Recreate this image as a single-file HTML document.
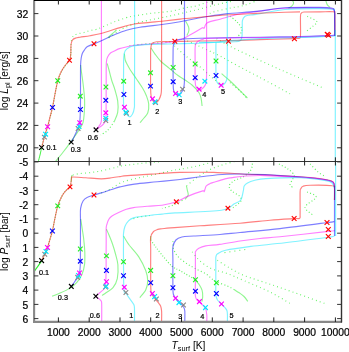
<!DOCTYPE html>
<html><head><meta charset="utf-8"><style>
html,body{margin:0;padding:0;background:#fff;}
svg{display:block;}
text{font-family:"Liberation Sans",Arial,Helvetica,sans-serif;fill:#000;}
.b text{stroke:#000;stroke-width:0.22px;}
</style></head><body>
<svg width="349" height="352" viewBox="0 0 349 352">
<rect width="349" height="352" fill="#fff"/>
<g fill="none" stroke-linecap="butt">
<path d="M38.3 161.5 C38.6 160.4 39.4 157.4 40 155 C40.6 152.6 41.4 148.6 41.7 147.3" stroke="#22ee22" stroke-width="1.0" stroke-opacity="0.85"/>
<path d="M41.7 147.3 C42.2 145.6 43.4 140.5 44.4 137.1 C45.4 133.7 46.2 131.7 47.6 126.7 C49 121.8 50.8 115.1 52.5 107.4 C54.2 99.7 56 87.1 57.8 80.7 C59.5 74.3 61 72.4 63 69 C65 65.6 68.2 62.6 69.5 60.1 C70.8 57.6 70.5 56.7 70.8 54 C71 51.3 71 45.7 71 44" stroke="#22ee22" stroke-width="1.15" stroke-dasharray="1 1.5" stroke-opacity="0.7"/>
<path d="M71.3 41 C71.5 40.4 72 38.5 72.5 37.5 C73 36.5 73.3 35.9 74.3 35.2 C75.3 34.6 77 34 78.6 33.6 C80.1 33.2 81.8 33.1 83.6 32.6 C85.4 32.1 87.2 31.2 89.4 30.7 C91.6 30.1 94 30.1 96.5 29.3 C99 28.6 101.5 27.4 104.4 26.2 C107.3 25 110.1 23.4 113.8 22 C117.5 20.6 123.4 18.6 126.4 17.6 C129.4 16.7 129.7 16.7 132 16.3 C134.3 15.9 137 15.5 140.1 15 C143.2 14.5 145.2 14 150.3 13.4 C155.4 12.8 165 12.1 170.9 11.2 C176.8 10.2 181.6 8.5 185.6 7.7 C189.6 6.9 191.8 7 195 6.3 C198.2 5.5 201.6 4.1 204.5 3.2 C207.4 2.3 211 1.2 212.3 0.8" stroke="#22ee22" stroke-width="1.15" stroke-dasharray="0.9 3.2" stroke-opacity="0.7"/>
<path d="M109.2 37.8 C111.1 36.5 116.3 32.2 120.6 29.8 C124.9 27.4 130.6 25 135 23.5 C139.4 22 141.3 21.8 146.9 20.6 C152.5 19.4 162 17.7 168.4 16.3 C174.8 14.9 180.9 13.5 185.6 12.4 C190.3 11.3 191.5 11.1 196.7 9.8 C201.9 8.5 210.7 6 216.7 4.6 C222.7 3.1 230.1 1.7 232.8 1.1" stroke="#22ee22" stroke-width="1.15" stroke-dasharray="0.9 3.2" stroke-opacity="0.7"/>
<path d="M209.8 13.4 C211 13 213.5 11.9 217.1 11 C220.7 10.1 227.3 8.7 231.2 7.9 C235.1 7.1 237.8 7 240.7 6.3 C243.6 5.6 246 4.8 248.6 3.9 C251.2 3 254.8 1.5 256 1" stroke="#22ee22" stroke-width="1.15" stroke-dasharray="0.9 3.2" stroke-opacity="0.7"/>
<path d="M55.5 161.5 C56.8 159.9 60.6 155.3 63.2 152 C65.8 148.7 68.4 145.2 71 141.6 C73.6 138 76.7 133.7 78.7 130.5 C80.7 127.3 82.1 125.8 83 122.7 C83.9 119.6 84 115.8 84.3 112 C84.6 108.2 84.8 104.5 84.6 100 C84.4 95.5 83.8 89.7 83.2 84.7 C82.6 79.7 81.6 73.3 81.2 70 C80.8 66.7 80.7 65.8 80.6 65" stroke="#22ee22" stroke-width="1.1" stroke-opacity="0.5"/>
<path d="M107.2 63.5 C107.5 64.6 108.3 67.2 109 70 C109.7 72.8 110.6 76.7 111.6 80 C112.6 83.3 114 86.5 115 90 C116 93.5 117.2 97.2 117.7 100.9 C118.2 104.6 118.3 108.9 117.7 112.3 C117.1 115.7 114.9 119.9 114.3 121.4" stroke="#22ee22" stroke-width="1.1" stroke-opacity="0.5"/>
<path d="M114.3 121.4 C113.2 122.9 109.8 128.2 107.5 130.5 C105.2 132.8 101.8 134.2 100.7 135" stroke="#22ee22" stroke-width="1.15" stroke-dasharray="1 2.2" stroke-opacity="0.7"/>
<path d="M107.9 37.9 C108.6 37.2 110.6 35.3 112 34 C113.4 32.7 115.8 30.7 116.5 30" stroke="#22ee22" stroke-width="1.1" stroke-opacity="0.5"/>
<path d="M124.4 53.6 C124.5 54.7 124.7 58.1 125.2 60 C125.7 61.9 126.7 63.4 127.5 65 C128.3 66.6 128.5 67.2 130 69.5 C131.5 71.8 134.4 75.9 136.5 79 C138.6 82.1 140.8 85.2 142.5 88 C144.2 90.8 145.5 93.3 146.5 96 C147.5 98.7 148.5 101.2 148.7 104 C148.9 106.8 148.6 110.4 147.8 112.7 C147 115 145.3 116.3 144 118 C142.7 119.7 140.7 121.8 140 122.6" stroke="#22ee22" stroke-width="1.1" stroke-opacity="0.5"/>
<path d="M129.5 45.7 C132.9 45.3 142.4 44.2 150 43.5 C157.6 42.8 170.8 41.8 175 41.5" stroke="#22ee22" stroke-width="1.15" stroke-dasharray="1 3" stroke-opacity="0.7"/>
<path d="M151 47.9 C151.7 49 153.5 52 155.2 54.3 C156.9 56.6 158.9 59.4 161 61.5 C163.1 63.6 165.2 64.9 168 67.2 C170.8 69.5 175.2 73.4 178 75.5 C180.8 77.6 182.7 78.4 185 80 C187.3 81.6 189.7 83 192 85 C194.3 87 197.2 90.1 198.7 92.3 C200.2 94.5 200.4 95.7 201 98 C201.6 100.3 201.9 104.7 202.1 106" stroke="#22ee22" stroke-width="1.1" stroke-opacity="0.5"/>
<path d="M185.6 21 C186.1 22 188.1 25.3 188.6 27 C189.1 28.7 189.1 29.6 188.8 31 C188.5 32.4 187.2 34.8 186.9 35.5" stroke="#22ee22" stroke-width="1.1" stroke-opacity="0.5"/>
<path d="M230.4 16.3 C231.6 17.3 235.4 20.3 237.3 22.3 C239.2 24.3 241 26.7 241.6 28.4 C242.2 30.1 241.7 31.3 241 32.7 C240.3 34.1 237.9 36.3 237.3 37" stroke="#22ee22" stroke-width="1.15" stroke-dasharray="1 2" stroke-opacity="0.7"/>
<path d="M174.5 45.9 C176.4 47.6 181.7 52.7 185.9 56.1 C190.1 59.5 195.3 63 199.5 66.4 C203.7 69.8 207.5 73.7 210.9 76.6 C214.3 79.5 218.5 82.8 220 84" stroke="#22ee22" stroke-width="1.15" stroke-dasharray="0.9 3.2" stroke-opacity="0.7"/>
<path d="M183.6 39.1 C187 40.7 198 45.7 204.1 48.5 C210.2 51.3 214.3 53.1 220 56 C225.7 58.9 231.7 62.6 238 66 C244.3 69.4 249.3 71.9 258 76.5 C266.7 81.1 284.7 90.9 290 93.8" stroke="#22ee22" stroke-width="1.15" stroke-dasharray="0.9 3.2" stroke-opacity="0.7"/>
<path d="M216.6 38.7 C220.1 40.6 226.7 44.8 237.3 49.9 C247.9 55 265.6 63.1 280 69.5 C294.4 75.9 316.5 85.1 323.8 88.2" stroke="#22ee22" stroke-width="1.15" stroke-dasharray="0.9 3.2" stroke-opacity="0.7"/>
<path d="M221.6 73.7 C222.8 74.8 226.6 77.8 229 80 C231.4 82.2 232.8 83.6 235.9 86.6 C239 89.6 245.5 96.1 247.4 98" stroke="#22ee22" stroke-width="1.1" stroke-opacity="0.5"/>
<path d="M230 82.6 C231.7 84 237 88.2 240 91 C243 93.8 246.7 98 248 99.4" stroke="#22ee22" stroke-width="1.15" stroke-dasharray="1 2.5" stroke-opacity="0.7"/>
<path d="M307.3 16.3 C308.9 17.2 315.8 19.9 316.8 21.5 C317.8 23.1 315.3 24.1 313.4 25.8 C311.5 27.5 306.9 30.8 305.6 31.8" stroke="#22ee22" stroke-width="1.15" stroke-dasharray="1 2.4" stroke-opacity="0.7"/>
<path d="M292.3 0 C292.5 0.5 293.7 2 293.6 3 C293.5 4 292.4 5.5 291.5 6.3 C290.6 7.1 289 7.7 288.5 8" stroke="#22ee22" stroke-width="1.1" stroke-opacity="0.5"/>
<path d="M325.6 0 C325.9 0.8 326.5 3.4 327.2 4.6 C327.9 5.8 329.5 6.9 330 7.4" stroke="#22ee22" stroke-width="1.1" stroke-opacity="0.5"/>
<path d="M101.4 0 C101.4 10 101.4 41.7 101.4 60 C101.4 78.3 101.4 99.8 101.4 110 C101.4 120.2 101.7 118.7 101.3 121.4 C100.9 124.1 99.9 124.6 99 126 C98.1 127.4 96.6 129 96.1 129.6" stroke="#ff00ff" stroke-width="1.15" stroke-opacity="0.5"/>
<path d="M96.1 129.6 C96.7 129.2 98.4 128.1 99.5 127.3 C100.6 126.5 101.6 125.9 102.5 125 C103.4 124.1 104.3 123.2 104.9 122 C105.5 120.8 105.7 120 105.9 118 C106.1 116 106 116.3 106.1 110 C106.1 103.7 106.2 88 106.2 80 C106.2 72 106.1 65.9 106.4 62 C106.7 58.1 107.2 58 107.9 56.5 C108.6 55 109.6 53.8 110.5 53 C111.4 52.2 111.8 52.2 113.3 51.5 C114.8 50.8 117 49.4 119.4 48.6 C121.9 47.8 125.4 47.1 128 46.5 C130.6 45.9 132.3 45.6 135.1 45.2 C137.9 44.8 140.8 44.6 145 44.3 C149.2 44 155.7 43.7 160 43.3 C164.3 42.9 168.3 42.4 171 42 C173.7 41.6 174.5 41.1 176 40.7 C177.5 40.3 178.7 40.2 180 39.8 C181.3 39.4 181.8 39.4 184 38.3 C186.2 37.2 190.4 34.8 193.5 33 C196.6 31.2 201.2 28.5 202.8 27.6" stroke="#ff00ff" stroke-width="1.15" stroke-opacity="0.5"/>
<path d="M202.8 27.6 C203 27.7 203.8 28.6 204.2 28.2 C204.6 27.8 204.8 26.3 205.2 25.5 C205.6 24.7 205.7 24 206.5 23.4 C207.3 22.8 207.7 22.3 210 21.6 C212.3 20.9 216.7 20.1 220.1 19.2 C223.5 18.3 227 17.2 230.4 16.3 C233.8 15.4 236.4 14.6 240.7 13.8 C245 13 248.6 12.6 256 11.7 C263.4 10.8 274.4 8.9 285 8.3 C295.6 7.7 311.7 8 319.4 8 C327.1 8.1 328.9 8 331.4 8.6 C333.9 9.2 333.9 9.6 334.5 11.5 C335.1 13.4 334.6 15.9 334.7 20 C334.8 24.1 334.8 33.3 334.8 36" stroke="#ff00ff" stroke-width="1.15" stroke-opacity="0.5"/>
<path d="M134.6 0 C134.6 10 134.6 43.3 134.6 60 C134.6 76.7 134.6 92 134.5 100 C134.4 108 134.7 105.5 134.3 107.9 C134 110.3 133.2 112.8 132.4 114.3 C131.6 115.8 130.4 116.9 129.4 116.8 C128.4 116.7 127.1 114.6 126.2 113.5 C125.3 112.4 124.5 112.2 124 110 C123.5 107.8 123.6 106.7 123.5 100 C123.4 93.3 123.5 77.2 123.6 70 C123.6 62.8 123.5 59.7 123.8 56.5 C124.1 53.3 124.2 52.2 125.2 50.7 C126.2 49.2 128 48 129.5 47.2 C131.1 46.4 131.9 46.1 134.5 45.7 C137.1 45.3 139.4 44.9 145 44.6 C150.6 44.3 158.8 44.2 168 44 C177.2 43.8 191.9 43.5 200 43.2 C208.1 42.9 210.8 42.5 216.6 42.3 C222.4 42.1 231 42.1 235 41.8 C239 41.5 239.3 41.5 240.5 40.5 C241.7 39.5 241.8 36.8 242.1 36.1" stroke="#00e8ff" stroke-width="1.15" stroke-opacity="0.5"/>
<path d="M242.1 36.1 C242.1 34.8 242.2 30.6 242.3 28 C242.4 25.4 242 22.6 242.4 20.6 C242.8 18.7 243.8 17.2 245 16.3 C246.2 15.4 247.5 15.4 249.3 15.1 C251.1 14.8 250.1 15.3 256 14.4 C261.9 13.5 274.4 10.5 285 9.5 C295.6 8.5 311.7 8.7 319.4 8.6 C327.1 8.5 328.9 8.6 331.4 9.2 C333.9 9.8 334 7.5 334.6 12 C335.2 16.5 334.8 32 334.8 36" stroke="#00e8ff" stroke-width="1.15" stroke-opacity="0.5"/>
<path d="M161.6 0 C161.6 10 161.6 45.3 161.6 60 C161.6 74.7 161.6 82.2 161.5 88 C161.4 93.8 161.3 92.9 160.8 95 C160.3 97.1 159.3 99.2 158.5 100.5 C157.7 101.8 156.7 102.6 155.8 102.7 C154.9 102.8 153.8 102 153 101 C152.2 100 151.6 99.2 151.2 97 C150.8 94.8 150.7 94.2 150.6 88 C150.5 81.8 150.6 66.7 150.6 60 C150.6 53.3 150.5 50.8 150.8 48 C151.1 45.2 151.2 44.2 152.2 43.2 C153.2 42.2 154.1 42 156.7 41.7 C159.3 41.4 164.9 41.5 168 41.5 C171.1 41.5 169.9 41.6 175.2 41.5 C180.5 41.4 191.1 41.1 200 41 C208.9 40.9 218.8 40.8 228.8 40.6 C238.8 40.4 249.1 39.9 260 39.6 C270.9 39.3 287.6 38.8 294.2 38.6 C300.8 38.4 298.4 38.8 299.5 38.2 C300.6 37.6 300.3 38.7 300.5 35 C300.7 31.3 300.3 19.6 300.5 16 C300.7 12.4 300.9 13.9 301.5 13.2 C302.1 12.5 300.9 12.2 304 12 C307.1 11.8 315.1 11.8 320 11.8 C324.9 11.8 330.6 11.4 333.1 11.8 C335.6 12.2 334.5 10 334.8 14 C335.1 18 334.9 32.3 334.9 36" stroke="#ff0000" stroke-width="1.15" stroke-opacity="0.5"/>
<path d="M184.5 0 C184.5 10 184.5 46.3 184.5 60 C184.5 73.7 184.6 77.2 184.4 82 C184.2 86.8 184 86.7 183.4 88.5 C182.8 90.3 181.9 92 181 93 C180.1 94 179.2 94.8 178.2 94.8 C177.2 94.8 175.8 94.3 175 93.3 C174.2 92.3 173.7 92 173.4 89 C173.1 86 173.2 81.5 173.1 75 C173 68.5 173 55 173.1 50 C173.2 45 173.2 46.4 173.6 45 C174 43.6 174.4 42.5 175.5 41.5 C176.6 40.5 175.9 39.7 180 39.2 C184.1 38.7 186.7 38.6 200 38.3 C213.3 38 243.3 37.5 260 37.2 C276.7 36.9 288.7 36.9 300 36.6 C311.3 36.3 322.2 35.8 328 35.6 C333.8 35.4 333.4 35.3 334.5 35.2" stroke="#0000ff" stroke-width="1.15" stroke-opacity="0.5"/>
<path d="M206.6 0 C206.6 10 206.6 47 206.6 60 C206.6 73 206.7 73.9 206.5 78 C206.3 82.1 206.2 82.8 205.5 84.5 C204.8 86.2 203.6 87.7 202.5 88.5 C201.4 89.3 200.1 89.7 199.1 89.5 C198.1 89.3 197.2 88.8 196.5 87.5 C195.8 86.2 195.4 86.6 195.2 82 C195 77.4 195.1 65.7 195.1 60 C195.1 54.3 195 50.7 195.1 48 C195.2 45.3 195.3 45.1 195.8 44 C196.3 42.9 196.8 42 198 41.2 C199.2 40.4 201 39.7 203 39.2 C205 38.7 200.5 38.5 210 38.2 C219.5 37.9 245 37.8 260 37.6 C275 37.4 288.7 37.3 300 37 C311.3 36.7 322.2 36.1 328 35.8 C333.8 35.5 333.4 35.5 334.5 35.4" stroke="#ff00ff" stroke-width="1.15" stroke-opacity="0.5"/>
<path d="M227.3 0 C227.3 6.7 227.3 27.7 227.3 40 C227.3 52.3 227.4 67.2 227.2 74 C227 80.8 226.8 79.2 226.2 81 C225.6 82.8 224.4 83.9 223.6 84.6 C222.8 85.3 222 85.5 221.1 85.4 C220.2 85.3 219.1 85.1 218.3 84 C217.5 82.9 216.6 83 216.2 79 C215.8 75 215.9 65.5 215.9 60 C215.9 54.5 215.9 48.9 215.9 46 C215.9 43.1 216.1 43 216.1 42.4" stroke="#00e8ff" stroke-width="1.15" stroke-opacity="0.5"/>
<path d="M199 42.4 C201.9 42.4 212 42.5 216.3 42.3 C220.6 42.1 221.1 41.4 225 41 C228.9 40.6 234.2 40.4 240 40 C245.8 39.6 250 39 260 38.6 C270 38.2 288.7 37.9 300 37.5 C311.3 37.1 322.2 36.5 328 36.2 C333.8 36 333.7 36 334.8 36" stroke="#00e8ff" stroke-width="1.15" stroke-opacity="0.5"/>
<path d="M71.3 142.1 C71.8 141.1 73.4 138.2 74.5 136 C75.6 133.8 77 131 77.8 128.8 C78.6 126.6 79.2 125 79.6 122.7 C80 120.4 80 118.8 80.2 115 C80.4 111.2 80.5 105.8 80.5 100 C80.5 94.2 80.5 85.8 80.5 80 C80.5 74.2 80.5 68.7 80.6 65 C80.7 61.3 80.9 59.9 81.2 58 C81.5 56.1 81.8 54.9 82.3 53.5 C82.8 52.1 83.6 51 84.5 49.8 C85.4 48.6 85.9 47.5 87.5 46.5 C89.1 45.5 91.4 44.9 94 43.8 C96.6 42.7 99.7 41.5 103 40 C106.3 38.5 109.9 36.6 113.8 35 C117.7 33.4 122.1 31.5 126.5 30.2 C130.9 28.9 134.1 28.1 140 27.2 C145.9 26.2 155.2 25.4 161.9 24.5 C168.6 23.6 173.7 22.8 180 21.7 C186.3 20.6 192.4 19.1 200 17.8 C207.6 16.5 216.5 15 225.8 13.9 C235.1 12.8 246.1 12.4 256 11.4 C265.9 10.4 274.4 8.5 285 7.8 C295.6 7.1 311.7 7.4 319.4 7.4 C327.1 7.4 328.9 7.5 331.4 8 C333.9 8.5 333.9 8.5 334.4 10.5 C334.9 12.5 334.6 15.8 334.6 20 C334.7 24.2 334.7 33.3 334.7 36" stroke="#0000ff" stroke-width="1.15" stroke-opacity="0.5"/>
<path d="M41.6 147.5 C42.1 145.8 43.7 139.6 44.4 137.1 C45.1 134.6 45.1 134.4 45.6 132.7 C46.1 131 46.9 129.3 47.6 126.7 C48.3 124.1 49.2 120.2 50 117 C50.8 113.8 51.7 111.2 52.5 107.4 C53.3 103.6 54.1 98.5 55 94 C55.9 89.5 56.8 84.4 57.8 80.7 C58.8 77 59.8 74.5 61 72 C62.2 69.5 63.6 67.5 65 65.5 C66.4 63.5 68.5 62.2 69.5 60.3 C70.5 58.4 70.6 56 70.8 54 C71 52 70.8 49.8 70.9 48 C71 46.2 70.9 44.9 71.2 43.5 C71.5 42.1 71.9 40.7 72.6 39.8 C73.3 38.9 74.3 38.5 75.5 38.1 C76.7 37.7 77.6 37.6 80 37.2 C82.4 36.8 86.7 36.4 90 35.8 C93.3 35.2 96.7 34.6 100 33.8 C103.3 33 106.7 31.8 110 30.8 C113.3 29.8 115.9 28.7 120 27.6 C124.1 26.5 129.4 24.9 134.4 24 C139.4 23.1 145.4 22.9 150 22.4 C154.6 21.9 156.9 21.8 161.9 21.2 C166.9 20.6 173.7 19.8 180 19.1 C186.3 18.4 192.4 17.9 200 17.2 C207.6 16.5 216.5 15.6 225.8 15 C235.1 14.4 246.1 13.9 256 13.4 C265.9 12.9 277.7 12.4 285 12.2 C292.3 11.9 297.5 11.9 300 11.9" stroke="#ff0000" stroke-width="1.15" stroke-opacity="0.5"/>
<path d="M335.3 30 L335.3 162" stroke="#00e8ff" stroke-width="1.15" stroke-opacity="0.5"/>
<path d="M39.2 145.2 L44 149.8 M39.2 149.8 L44 145.2" stroke="#000000" stroke-width="1.15"/>
<path d="M42 134.8 L46.8 139.4 M42 139.4 L46.8 134.8" stroke="#888888" stroke-width="1.15"/>
<path d="M43.2 131.8 L48 136.5 M43.2 136.5 L48 131.8" stroke="#00e8ff" stroke-width="1.15"/>
<path d="M45.2 124.4 L50 129.1 M45.2 129.1 L50 124.4" stroke="#ff00ff" stroke-width="1.15"/>
<path d="M50.1 105.1 L54.9 109.8 M50.1 109.8 L54.9 105.1" stroke="#0000ff" stroke-width="1.15"/>
<path d="M55.4 78.4 L60.1 83 M55.4 83 L60.1 78.4" stroke="#22ee22" stroke-width="1.15"/>
<path d="M67.2 57.9 L71.8 62.6 M67.2 62.6 L71.8 57.9" stroke="#ff0000" stroke-width="1.15"/>
<path d="M68.9 139.8 L73.5 144.4 M68.9 144.4 L73.5 139.8" stroke="#000000" stroke-width="1.15"/>
<path d="M75.8 126.2 L80.4 130.9 M75.8 130.9 L80.4 126.2" stroke="#888888" stroke-width="1.15"/>
<path d="M76.8 124.1 L81.4 128.8 M76.8 128.8 L81.4 124.1" stroke="#00e8ff" stroke-width="1.15"/>
<path d="M77.4 120.4 L82 125 M77.4 125 L82 120.4" stroke="#ff00ff" stroke-width="1.15"/>
<path d="M78.1 107.2 L82.8 111.8 M78.1 111.8 L82.8 107.2" stroke="#0000ff" stroke-width="1.15"/>
<path d="M78 93.9 L82.6 98.5 M78 98.5 L82.6 93.9" stroke="#22ee22" stroke-width="1.15"/>
<path d="M91.7 41.4 L96.3 46.1 M91.7 46.1 L96.3 41.4" stroke="#ff0000" stroke-width="1.15"/>
<path d="M93.7 127.5 L98.3 132.2 M93.7 132.2 L98.3 127.5" stroke="#000000" stroke-width="1.15"/>
<path d="M103.5 118.2 L108.1 122.8 M103.5 122.8 L108.1 118.2" stroke="#888888" stroke-width="1.15"/>
<path d="M103.5 116 L108.1 120.6 M103.5 120.6 L108.1 116" stroke="#00e8ff" stroke-width="1.15"/>
<path d="M103.5 110.5 L108.1 115.1 M103.5 115.1 L108.1 110.5" stroke="#ff00ff" stroke-width="1.15"/>
<path d="M103.5 98 L108.1 102.6 M103.5 102.6 L108.1 98" stroke="#0000ff" stroke-width="1.15"/>
<path d="M103.6 84.7 L108.2 89.3 M103.6 89.3 L108.2 84.7" stroke="#22ee22" stroke-width="1.15"/>
<path d="M172.5 38.9 L177.2 43.6 M172.5 43.6 L177.2 38.9" stroke="#ff0000" stroke-width="1.15"/>
<path d="M124.1 111 L128.8 115.6 M124.1 115.6 L128.8 111" stroke="#888888" stroke-width="1.15"/>
<path d="M123.6 110 L128.2 114.6 M123.6 114.6 L128.2 110" stroke="#00e8ff" stroke-width="1.15"/>
<path d="M122.1 104.9 L126.8 109.5 M122.1 109.5 L126.8 104.9" stroke="#ff00ff" stroke-width="1.15"/>
<path d="M121.6 92.2 L126.2 96.9 M121.6 96.9 L126.2 92.2" stroke="#0000ff" stroke-width="1.15"/>
<path d="M121.4 78.9 L126 83.5 M121.4 83.5 L126 78.9" stroke="#22ee22" stroke-width="1.15"/>
<path d="M226.2 38.9 L230.8 43.6 M226.2 43.6 L230.8 38.9" stroke="#ff0000" stroke-width="1.15"/>
<path d="M153.2 100.2 L157.9 104.9 M153.2 104.9 L157.9 100.2" stroke="#888888" stroke-width="1.15"/>
<path d="M152.6 99.4 L157.2 104 M152.6 104 L157.2 99.4" stroke="#00e8ff" stroke-width="1.15"/>
<path d="M150.2 96.5 L154.8 101.1 M150.2 101.1 L154.8 96.5" stroke="#ff00ff" stroke-width="1.15"/>
<path d="M148.2 83.8 L152.8 88.4 M148.2 88.4 L152.8 83.8" stroke="#0000ff" stroke-width="1.15"/>
<path d="M148.2 70.5 L152.8 75.1 M148.2 75.1 L152.8 70.5" stroke="#22ee22" stroke-width="1.15"/>
<path d="M292 36.4 L296.8 41.1 M292 41.1 L296.8 36.4" stroke="#ff0000" stroke-width="1.15"/>
<path d="M180.2 86.8 L184.9 91.4 M180.2 91.4 L184.9 86.8" stroke="#888888" stroke-width="1.15"/>
<path d="M176.8 92.5 L181.5 97.1 M176.8 97.1 L181.5 92.5" stroke="#00e8ff" stroke-width="1.15"/>
<path d="M173.2 91.2 L177.9 95.8 M173.2 95.8 L177.9 91.2" stroke="#ff00ff" stroke-width="1.15"/>
<path d="M170.8 79.4 L175.5 84 M170.8 84 L175.5 79.4" stroke="#0000ff" stroke-width="1.15"/>
<path d="M170.8 65.2 L175.5 69.8 M170.8 69.8 L175.5 65.2" stroke="#22ee22" stroke-width="1.15"/>
<path d="M202.5 78.9 L207.2 83.5 M202.5 83.5 L207.2 78.9" stroke="#00e8ff" stroke-width="1.15"/>
<path d="M196.8 86.9 L201.5 91.5 M196.8 91.5 L201.5 86.9" stroke="#ff00ff" stroke-width="1.15"/>
<path d="M192.8 75.4 L197.5 80 M192.8 80 L197.5 75.4" stroke="#0000ff" stroke-width="1.15"/>
<path d="M192.8 61.7 L197.5 66.4 M192.8 66.4 L197.5 61.7" stroke="#22ee22" stroke-width="1.15"/>
<path d="M218.8 83 L223.5 87.6 M218.8 87.6 L223.5 83" stroke="#ff00ff" stroke-width="1.15"/>
<path d="M213.7 73.2 L218.3 77.8 M213.7 77.8 L218.3 73.2" stroke="#0000ff" stroke-width="1.15"/>
<path d="M213.7 58.6 L218.3 63.4 M213.7 63.4 L218.3 58.6" stroke="#22ee22" stroke-width="1.15"/>
<path d="M324.9 32 L329.7 36.8 M324.9 36.8 L329.7 32" stroke="#ff0000" stroke-width="1.15"/>
<path d="M326.1 32.9 L330.9 37.6 M326.1 37.6 L330.9 32.9" stroke="#ff0000" stroke-width="1.15"/>
<path d="M34 271.7 C34.7 270.8 36.7 267.9 38 266.1 C39.3 264.3 41.3 261.6 42 260.7" stroke="#22ee22" stroke-width="1.1" stroke-opacity="0.95"/>
<path d="M42 260.7 C42.5 259.6 43.8 256.4 44.7 254.2 C45.6 252 46.2 251.4 47.5 247.5 C48.8 243.6 51.1 235.9 52.4 231 C53.6 226.1 54.1 222.2 55 218 C55.9 213.8 56.6 209.6 57.8 205.9 C59 202.2 60.6 198.6 62 196 C63.4 193.4 64.7 192 66 190.5 C67.3 189 69.1 188.5 70 186.9 C70.9 185.3 71 182 71.2 181" stroke="#22ee22" stroke-width="1.15" stroke-dasharray="1 1.5" stroke-opacity="0.7"/>
<path d="M71.2 181 C71.3 180.1 71.4 176.8 71.7 175.8 C72 174.8 72.7 175.1 72.9 174.9" stroke="#22ee22" stroke-width="1.1" stroke-opacity="0.5"/>
<path d="M72.9 174.9 C73.9 174.7 76.2 174.1 78.9 173.7 C81.6 173.3 86.1 173.1 89.2 172.7 C92.3 172.3 94.9 172 97.8 171.5 C100.7 171 103.2 170.4 106.4 169.7 C109.6 169 114 167.9 116.7 167.2 C119.5 166.5 118.8 166.3 122.9 165.7 C127 165.1 134.8 164.1 141.3 163.4 C147.8 162.7 158.5 161.9 161.9 161.6" stroke="#22ee22" stroke-width="1.15" stroke-dasharray="0.9 3.2" stroke-opacity="0.7"/>
<path d="M52.1 296.2 C53.4 295.7 57.1 294.5 60.1 293.1 C63.1 291.8 67.3 289.9 70.1 288.1 C72.9 286.3 75.1 284.4 77.1 282.1 C79.1 279.8 80.8 277.1 82.1 274.1 C83.3 271.1 84.1 267.8 84.6 264.1 C85 260.4 84.9 256 84.8 252 C84.7 248 84.1 243.3 83.8 240 C83.5 236.7 83.2 235.5 82.7 232 C82.2 228.5 81 221.2 80.7 219" stroke="#22ee22" stroke-width="1.1" stroke-opacity="0.5"/>
<path d="M101.3 192.9 C101.8 192.7 103.5 192.2 104.6 191.8 C105.7 191.4 106.6 191.2 108.1 190.4 C109.6 189.6 111.3 188.4 113.8 187 C116.3 185.6 119.1 183.2 122.9 181.8 C126.7 180.4 131.7 179.5 136.7 178.3 C141.7 177.2 146.6 176.2 152.7 174.9 C158.8 173.6 168.8 171.2 173.4 170.3 C178 169.4 176.4 169.8 180 169.2 C183.6 168.6 189.8 167.6 195 166.5 C200.2 165.4 208.4 163.2 211.1 162.6" stroke="#22ee22" stroke-width="1.15" stroke-dasharray="0.9 3.2" stroke-opacity="0.7"/>
<path d="M106.4 229.2 C106.8 230.2 108 232.5 109 235 C110 237.5 111.4 240.8 112.5 244 C113.6 247.2 114.6 250.5 115.5 254 C116.4 257.5 117.6 260.7 117.9 264.8 C118.2 268.9 118.1 274.9 117.3 278.7 C116.5 282.5 114.9 285.4 113 287.7 C111.1 290 107.8 291.4 106 292.7 C104.2 294 102.7 294.9 102 295.4" stroke="#22ee22" stroke-width="1.1" stroke-opacity="0.5"/>
<path d="M186.5 185.8 C186.6 186.5 187 188.5 187.3 190.1 C187.6 191.7 188.5 193.8 188.2 195.2 C187.9 196.6 186 198.1 185.6 198.7" stroke="#22ee22" stroke-width="1.1" stroke-opacity="0.5"/>
<path d="M185.6 198.7 C184.8 199.1 182.8 200.2 180.5 201.3 C178.2 202.5 175 204.4 171.9 205.6 C168.8 206.8 163.7 208 162 208.5" stroke="#22ee22" stroke-width="1.15" stroke-dasharray="1 2.6" stroke-opacity="0.7"/>
<path d="M186.6 185.8 C188.3 184.4 193.3 180.1 197 177.5 C200.7 174.9 204.4 172.4 208.5 170.3 C212.6 168.2 217.1 166.6 221.4 165.2 C225.7 163.8 232.2 162.2 234.3 161.6" stroke="#22ee22" stroke-width="1.15" stroke-dasharray="0.9 3.2" stroke-opacity="0.7"/>
<path d="M123.5 236 C124 236.8 125.5 239.4 126.5 241 C127.5 242.6 127.5 242.8 129.5 245.5 C131.6 248.2 136.1 252.7 138.8 256.9 C141.5 261.1 144.3 266.8 145.8 270.8 C147.3 274.8 147.7 277.6 147.7 280.7 C147.7 283.8 147.1 286.9 145.8 289.7 C144.5 292.5 140.8 296.3 139.8 297.6" stroke="#22ee22" stroke-width="1.1" stroke-opacity="0.5"/>
<path d="M133.5 218.6 C134.3 218.4 135.8 217.7 138.5 217.2 C141.2 216.7 148.1 215.8 150 215.5" stroke="#22ee22" stroke-width="1.15" stroke-dasharray="1 3" stroke-opacity="0.7"/>
<path d="M233 207.7 C234.3 206.6 239.7 203.2 240.8 201.3 C241.9 199.4 241 197.8 239.5 196.1 C238 194.4 233.4 192.6 231.7 190.9 C230 189.2 228.8 187.5 229.2 185.8 C229.6 184.1 232 182.1 234.3 180.6 C236.7 179.1 240.7 178.3 243.3 176.8 C245.9 175.3 248.3 173.5 249.8 171.6 C251.3 169.7 252.2 166.9 252.4 165.2 C252.6 163.5 251.3 162.2 251.1 161.6" stroke="#22ee22" stroke-width="1.15" stroke-dasharray="1 2.2" stroke-opacity="0.7"/>
<path d="M150.7 236 L150.8 240" stroke="#22ee22" stroke-width="1.1" stroke-opacity="0.5"/>
<path d="M150.8 240 C151.5 241 153.1 243.5 155 246 C156.9 248.5 159.2 251.6 162 255 C164.8 258.4 169 263.7 172 266.3 C175 268.9 176.3 268.5 180 270.6 C183.7 272.7 191.8 277.6 194.2 279" stroke="#22ee22" stroke-width="1.15" stroke-dasharray="1 1.8" stroke-opacity="0.7"/>
<path d="M172.9 241 C173 242.2 172.8 245.8 173.3 248 C173.8 250.2 174.9 252.2 176 254 C177.1 255.8 178.1 256.8 180 258.5 C181.9 260.2 185.1 262.5 187.7 264.2 C190.3 265.9 192.5 267.1 195.5 268.7 C198.5 270.3 202.6 271.8 205.8 273.8 C209 275.8 211.2 278.9 214.8 280.9 C218.4 282.9 224 284.6 227.2 286 C230.4 287.4 232.9 288.9 234 289.5" stroke="#22ee22" stroke-width="1.15" stroke-dasharray="1 2.4" stroke-opacity="0.7"/>
<path d="M234 289.5 C234.9 290.1 237.5 291.6 239.2 292.8 C240.9 294 242.6 295.1 244 296.5 C245.4 297.9 247.2 300.6 247.8 301.4" stroke="#22ee22" stroke-width="1.1" stroke-opacity="0.5"/>
<path d="M192.2 251.9 C193.2 253.1 195.7 256.7 198 259 C200.3 261.3 203 263.7 205.8 265.5 C208.6 267.3 211.2 268.7 214.8 270 C218.4 271.3 222.3 271.7 227.2 273.5 C232.1 275.3 237.3 277.7 244.4 280.8 C251.5 283.9 262.4 288.2 270 292 C277.6 295.8 286.7 301.5 290 303.4" stroke="#22ee22" stroke-width="1.15" stroke-dasharray="0.9 3.2" stroke-opacity="0.7"/>
<path d="M217.4 260.3 C219.6 261.7 226.1 265.9 230.6 268.5 C235.1 271.1 237.8 273 244.4 275.6 C251 278.2 261.2 281.2 270 284.2 C278.8 287.2 287.9 290.3 297 293.5 C306.1 296.7 319.8 301.8 324.4 303.4" stroke="#22ee22" stroke-width="1.15" stroke-dasharray="0.9 3.2" stroke-opacity="0.7"/>
<path d="M194.2 279 C194.7 279.5 196.2 281 197 282 C197.8 283 198.5 283.4 199.3 284.8 C200.2 286.2 201.5 288.5 202.1 290.4 C202.7 292.3 202.7 294.5 202.7 296.4 C202.7 298.3 202 300.7 201.9 301.6" stroke="#22ee22" stroke-width="1.1" stroke-opacity="0.5"/>
<path d="M224.5 252.6 L247.4 249.2" stroke="#22ee22" stroke-width="1.15" stroke-dasharray="1 4" stroke-opacity="0.7"/>
<path d="M279 164 C280.5 164.8 285.5 167.2 288 169 C290.5 170.8 293.4 173.2 294.1 175 C294.8 176.8 292.8 178.4 292.1 180.1 C291.4 181.8 289.8 183.8 290.1 185.1 C290.4 186.4 293.4 187.6 294.1 188.1" stroke="#22ee22" stroke-width="1.15" stroke-dasharray="1 2.2" stroke-opacity="0.7"/>
<path d="M310.1 164 C311.4 165.3 315.8 170 318.1 172 C320.5 174 323.2 175.3 324.2 176" stroke="#22ee22" stroke-width="1.15" stroke-dasharray="1 2.4" stroke-opacity="0.7"/>
<path d="M307.1 192.1 C308.6 192.9 316.4 194.6 316.1 197.1 C315.8 199.6 305.6 204.1 305.1 207.1 C304.6 210.1 311.8 213.8 313.1 215.2" stroke="#22ee22" stroke-width="1.15" stroke-dasharray="1 2.2" stroke-opacity="0.7"/>
<path d="M41.6 260.6 C42.1 259.5 44 255.7 44.7 254.2 C45.4 252.7 45.5 252.7 46 251.6 C46.5 250.5 46.8 249.6 47.5 247.5 C48.2 245.4 49.2 241.8 50 239 C50.8 236.2 51.6 234.5 52.4 231 C53.2 227.5 54.1 222.2 55 218 C55.9 213.8 56.6 209.6 57.8 205.9 C59 202.2 60.6 198.6 62 196 C63.4 193.4 64.7 192 66 190.5 C67.3 189 69.1 188.5 70 186.9 C70.9 185.3 70.9 182.5 71.2 181 C71.5 179.5 71.3 178.7 71.6 178 C71.9 177.3 70.5 177 72.9 177 C75.3 177 81.1 177.5 85.8 177.8 C90.5 178.1 97 178.8 101.3 178.8 C105.6 178.8 108.5 178.2 111.6 177.8 C114.7 177.4 117.3 177 120 176.6 C122.7 176.2 121.3 176.1 127.5 175.6 C133.7 175.1 148.6 174.3 157.3 173.8 C166.1 173.3 170.6 172.6 180 172.4 C189.4 172.2 202.5 172.1 213.7 172.4 C224.9 172.7 237.8 173.8 247.2 174.2 C256.6 174.6 259.5 174.4 270 175 C280.5 175.6 300.4 176.8 310.1 177.6 C319.8 178.4 324.4 179.3 328.2 180.1 C332 180.8 332.1 181.1 333.2 182.1 C334.2 183.1 334.3 183 334.5 186 C334.7 189 334.5 197.7 334.5 200" stroke="#ff0000" stroke-width="1.15" stroke-opacity="0.5"/>
<path d="M71.3 286.4 C71.8 285.7 73.4 283.5 74.5 282 C75.6 280.5 76.9 278.9 77.7 277.4 C78.5 275.9 79.1 275.1 79.5 273 C79.9 270.9 80.1 269 80.3 265 C80.5 261 80.4 256.2 80.4 249 C80.4 241.8 80.5 228.8 80.5 222 C80.5 215.2 80.1 212 80.6 208.4 C81 204.8 82 202.6 83.2 200.7 C84.4 198.8 85.7 198.1 87.5 197.2 C89.3 196.2 91.7 195.7 94 195 C96.3 194.3 98.4 193.8 101.3 192.9 C104.2 192 108.5 190.5 111.6 189.5 C114.7 188.5 116.2 187.8 120 186.9 C123.8 186 128.2 184.9 134.4 184.1 C140.6 183.2 149.7 182.6 157.3 181.8 C164.9 181 172.8 180.3 180 179.5 C187.2 178.7 193 177.7 200.8 176.8 C208.6 175.9 215.9 174.6 226.6 174.2 C237.3 173.8 251.1 174 265 174.6 C278.9 175.2 299.6 176.9 310.1 177.8 C320.6 178.8 324.4 179.5 328.2 180.3 C332 181.1 332.1 181.4 333.2 182.4 C334.2 183.4 334.3 185.8 334.5 186.5" stroke="#0000ff" stroke-width="1.15" stroke-opacity="0.5"/>
<path d="M95.8 296.2 C96.2 296.6 97.4 297.5 98.3 298.3 C99.2 299.1 100.6 299.9 101.2 301 C101.8 302.1 101.6 301.7 101.7 305 C101.8 308.3 101.7 318.3 101.7 321" stroke="#ff00ff" stroke-width="1.15" stroke-opacity="0.5"/>
<path d="M95.8 296.2 C96.5 295.6 98.6 293.7 100 292.5 C101.4 291.3 103.1 290.2 104 289 C104.9 287.8 105.2 288.2 105.6 285 C105.9 281.8 106 274.8 106.1 270 C106.2 265.2 106.1 261 106.1 256 C106.1 251 106.2 244.7 106.2 240 C106.2 235.3 106.1 230.7 106.2 228 C106.3 225.3 106.6 225.4 107 224 C107.4 222.6 107.9 220.8 108.7 219.5 C109.5 218.2 110.2 217.2 112 216 C113.8 214.8 116.8 213.3 119.2 212.2 C121.6 211.1 123.9 210.1 126.3 209.3 C128.7 208.5 129.9 208.1 133.5 207.6 C137.1 207.1 143.1 206.6 147.8 206.2 C152.6 205.8 157.2 206 162 205.3 C166.8 204.6 171.9 203.3 176.3 201.8 C180.7 200.3 183.8 197.9 188.2 196.1 C192.6 194.3 200.1 191.7 202.8 190.9 C205.5 190.2 203.8 192 204.2 191.6 C204.6 191.2 204.8 189.4 205.2 188.5 C205.5 187.6 205.5 186.7 206.3 185.9 C207.1 185.1 208.6 184.2 210 183.6 C211.4 182.9 212.4 182.8 214.9 182 C217.4 181.2 222.2 179.6 225 178.9 C227.8 178.2 229 178.1 232 177.6 C235 177.1 237.5 176.5 243 176.2 C248.5 175.9 253.8 175.3 265 175.6 C276.2 175.9 299.6 177.1 310.1 177.9 C320.6 178.7 324.4 179.7 328.2 180.5 C332 181.3 332.1 181.5 333.2 182.6 C334.2 183.7 334.3 186.3 334.5 187" stroke="#ff00ff" stroke-width="1.15" stroke-opacity="0.5"/>
<path d="M134.5 321 C134.5 319.2 134.6 312.7 134.5 310 C134.4 307.3 134.7 306.7 133.8 304.6 C132.9 302.5 130.2 299.5 128.9 297.6 C127.6 295.7 126.7 294.3 125.9 293 C125.1 291.7 124.3 294.9 123.9 289.7 C123.5 284.5 123.6 270.3 123.5 262 C123.4 253.7 123.5 244.7 123.5 240 C123.5 235.3 123.3 235.9 123.5 233.7 C123.7 231.4 124.1 228.7 124.9 226.5 C125.7 224.3 127.1 222.2 128.5 220.8 C129.9 219.4 131.5 218.6 133.5 217.9 C135.5 217.2 137.6 217 140.7 216.5 C143.8 216 148.5 215.5 152.1 215.1 C155.7 214.7 158.2 214.5 162 214.1 C165.8 213.7 165.1 213.5 175 212.9 C184.9 212.3 211.5 211.8 221.4 210.3 C231.3 208.8 231.1 205.5 234.3 203.8 C237.5 202.1 239.3 202.2 240.8 200 C242.3 197.8 242.7 193.2 243.3 190.9 C243.9 188.6 243.5 187.3 244.2 186 C244.9 184.7 245.9 183.9 247.5 183 C249.1 182.1 250.9 181.2 254 180.5 C257.1 179.8 258.2 179 265.9 178.6 C273.6 178.2 290 177.4 300 177.8 C310 178.2 320.7 179.9 326 180.8 C331.3 181.7 330.6 181.8 332 183 C333.4 184.2 334.1 187.2 334.5 188" stroke="#00e8ff" stroke-width="1.15" stroke-opacity="0.5"/>
<path d="M161.6 321 C161.6 319.3 161.8 313.5 161.6 311 C161.4 308.5 161.1 307.3 160.6 306 C160.1 304.7 159.5 304.3 158.7 303.2 C157.9 302.1 156.7 300.9 155.7 299.6 C154.7 298.3 153.3 296.6 152.5 295.5 C151.7 294.4 151.4 294.9 151.1 292.7 C150.8 290.4 150.8 289.1 150.7 282 C150.6 274.9 150.7 257.4 150.7 250 C150.7 242.6 150.2 240.4 150.7 237.3 C151.2 234.2 152.3 232.8 153.5 231.5 C154.7 230.2 156.4 229.9 157.8 229.4 C159.2 228.9 159.2 229 162 228.7 C164.8 228.4 168.2 228.1 174.5 227.6 C180.8 227.1 189.1 226.5 200 225.8 C210.9 225.1 228.3 224.1 240 223.2 C251.7 222.3 261 221 270 220.2 C279 219.4 289.2 218.9 294.1 218.6 C299 218.3 298.6 219 299.6 218.2 C300.6 217.4 300 218.4 300.1 214 C300.2 209.6 300 196.2 300.1 192 C300.2 187.8 300.5 189.5 301 188.5 C301.5 187.5 301.6 186.8 303.1 186.2 C304.6 185.6 305.2 185.3 310.1 185.2 C315 185.1 328.1 185.1 332.2 185.7 C336.3 186.2 334.1 186.1 334.5 188.5 C334.9 190.9 334.5 198.1 334.5 200" stroke="#ff0000" stroke-width="1.15" stroke-opacity="0.5"/>
<path d="M184.8 321 C184.8 319.3 185 313.3 184.8 311 C184.6 308.7 184.4 308.5 183.5 307 C182.6 305.5 180.9 303.4 179.6 302 C178.3 300.6 176.9 299.6 175.8 298.3 C174.8 297 173.8 296.2 173.3 294 C172.8 291.8 173 290.7 172.9 285 C172.8 279.3 172.9 266.4 172.9 260 C172.9 253.7 172.4 250.2 172.9 246.9 C173.4 243.6 174.4 241.7 175.9 240 C177.4 238.3 178.9 237.7 181.9 237 C184.9 236.3 187.5 236.4 193.8 236 C200.2 235.6 212.3 235.1 220 234.5 C227.7 233.9 230 233.5 240 232.5 C250 231.5 265.6 230.2 280 228.6 C294.4 227 317.2 223.9 326.3 222.7 C335.4 221.5 333 221.7 334.3 221.5" stroke="#0000ff" stroke-width="1.15" stroke-opacity="0.5"/>
<path d="M206.8 321 C206.8 320 207 317.1 206.8 315 C206.6 312.9 206.4 310.1 205.5 308.3 C204.6 306.5 202.9 305.3 201.6 304 C200.3 302.7 198.5 301.8 197.5 300.5 C196.5 299.2 195.8 299.4 195.4 296 C195.1 292.6 195.4 286.8 195.4 280 C195.4 273.2 195.4 259.8 195.4 255 C195.4 250.2 195 252.6 195.6 251.5 C196.2 250.4 197.1 249.2 198.8 248.3 C200.5 247.4 202.2 246.6 205.7 245.9 C209.2 245.2 213.9 245.2 219.6 244.4 C225.3 243.6 233.3 242 240 241 C246.7 240 253.3 239.2 260 238.5 C266.7 237.8 268.6 238 280 236.8 C291.4 235.6 319.1 232.5 328.2 231.4 C337.3 230.3 333.4 230.7 334.4 230.5" stroke="#ff00ff" stroke-width="1.15" stroke-opacity="0.5"/>
<path d="M227.4 321 C227.4 319.8 227.6 315.9 227.4 314 C227.2 312.1 227.5 311.3 226.5 309.6 C225.5 307.9 223 305.6 221.5 304 C220 302.4 218.4 301.5 217.5 300 C216.6 298.5 216.2 298 215.9 295 C215.6 292 215.8 287.8 215.8 282 C215.8 276.2 215.8 264.2 215.8 260 C215.8 255.8 215.7 257.5 216 256.5 C216.3 255.5 216 254.8 217.6 253.8 C219.2 252.8 220 251.5 225.6 250.3 C231.2 249.1 241 247.7 250.9 246.4 C260.8 245.2 272.1 244.3 285 242.8 C297.9 241.3 319.9 238.4 328.2 237.3 C336.4 236.2 333.4 236.4 334.5 236.2" stroke="#00e8ff" stroke-width="1.15" stroke-opacity="0.5"/>
<path d="M334.5 186 L334.5 236" stroke="#0000ff" stroke-width="1.15" stroke-opacity="0.5"/>
<path d="M335.6 162 L335.6 236" stroke="#00e8ff" stroke-width="1.15" stroke-opacity="0.5"/>
<path d="M39.2 258.2 L44 263 M39.2 263 L44 258.2" stroke="#000000" stroke-width="1.15"/>
<path d="M42.4 251.8 L47.1 256.6 M42.4 256.6 L47.1 251.8" stroke="#888888" stroke-width="1.15"/>
<path d="M43.6 249.2 L48.4 253.9 M43.6 253.9 L48.4 249.2" stroke="#00e8ff" stroke-width="1.15"/>
<path d="M45.1 245.2 L49.9 249.8 M45.1 249.8 L49.9 245.2" stroke="#ff00ff" stroke-width="1.15"/>
<path d="M50 228.7 L54.8 233.3 M50 233.3 L54.8 228.7" stroke="#0000ff" stroke-width="1.15"/>
<path d="M55.4 203.6 L60.1 208.2 M55.4 208.2 L60.1 203.6" stroke="#22ee22" stroke-width="1.15"/>
<path d="M67.7 184.6 L72.3 189.2 M67.7 189.2 L72.3 184.6" stroke="#ff0000" stroke-width="1.15"/>
<path d="M69 284 L73.6 288.8 M69 288.8 L73.6 284" stroke="#000000" stroke-width="1.15"/>
<path d="M75.4 275 L80 279.8 M75.4 279.8 L80 275" stroke="#888888" stroke-width="1.15"/>
<path d="M76.2 273.2 L80.8 278 M76.2 278 L80.8 273.2" stroke="#00e8ff" stroke-width="1.15"/>
<path d="M77.2 270.6 L81.8 275.4 M77.2 275.4 L81.8 270.6" stroke="#ff00ff" stroke-width="1.15"/>
<path d="M78 258.8 L82.6 263.5 M78 263.5 L82.6 258.8" stroke="#0000ff" stroke-width="1.15"/>
<path d="M78 246.7 L82.6 251.3 M78 251.3 L82.6 246.7" stroke="#22ee22" stroke-width="1.15"/>
<path d="M91.7 192.7 L96.3 197.3 M91.7 197.3 L96.3 192.7" stroke="#ff0000" stroke-width="1.15"/>
<path d="M93.5 293.8 L98.1 298.6 M93.5 298.6 L98.1 293.8" stroke="#000000" stroke-width="1.15"/>
<path d="M103.2 284.6 L107.9 289.4 M103.2 289.4 L107.9 284.6" stroke="#888888" stroke-width="1.15"/>
<path d="M103.8 283.8 L108.4 288.6 M103.8 288.6 L108.4 283.8" stroke="#00e8ff" stroke-width="1.15"/>
<path d="M104.1 279.3 L108.8 284.1 M104.1 284.1 L108.8 279.3" stroke="#ff00ff" stroke-width="1.15"/>
<path d="M104.1 268 L108.8 272.8 M104.1 272.8 L108.8 268" stroke="#0000ff" stroke-width="1.15"/>
<path d="M104.1 253.6 L108.8 258.2 M104.1 258.2 L108.8 253.6" stroke="#22ee22" stroke-width="1.15"/>
<path d="M174 199.5 L178.7 204.2 M174 204.2 L178.7 199.5" stroke="#ff0000" stroke-width="1.15"/>
<path d="M123.6 290.1 L128.2 294.9 M123.6 294.9 L128.2 290.1" stroke="#888888" stroke-width="1.15"/>
<path d="M122 284.8 L126.6 289.5 M122 289.5 L126.6 284.8" stroke="#ff00ff" stroke-width="1.15"/>
<path d="M121.2 273.4 L125.8 278.2 M121.2 278.2 L125.8 273.4" stroke="#0000ff" stroke-width="1.15"/>
<path d="M121.2 259.4 L125.8 264.2 M121.2 264.2 L125.8 259.4" stroke="#22ee22" stroke-width="1.15"/>
<path d="M225.6 205.8 L230.2 210.5 M225.6 210.5 L230.2 205.8" stroke="#ff0000" stroke-width="1.15"/>
<path d="M154 296.6 L158.7 301.4 M154 301.4 L158.7 296.6" stroke="#888888" stroke-width="1.15"/>
<path d="M152.3 294.2 L157 299 M152.3 299 L157 294.2" stroke="#00e8ff" stroke-width="1.15"/>
<path d="M150 291.2 L154.7 296 M150 296 L154.7 291.2" stroke="#ff00ff" stroke-width="1.15"/>
<path d="M148.3 280.3 L153 285.1 M148.3 285.1 L153 280.3" stroke="#0000ff" stroke-width="1.15"/>
<path d="M148.3 268 L153 272.8 M148.3 272.8 L153 268" stroke="#22ee22" stroke-width="1.15"/>
<path d="M291.8 216.2 L296.5 220.9 M291.8 220.9 L296.5 216.2" stroke="#ff0000" stroke-width="1.15"/>
<path d="M181.2 302.6 L185.8 307.4 M181.2 307.4 L185.8 302.6" stroke="#888888" stroke-width="1.15"/>
<path d="M176.6 300.2 L181.2 305 M176.6 305 L181.2 300.2" stroke="#00e8ff" stroke-width="1.15"/>
<path d="M173.2 295.8 L177.8 300.6 M173.2 300.6 L177.8 295.8" stroke="#ff00ff" stroke-width="1.15"/>
<path d="M170.6 285.3 L175.2 290.1 M170.6 290.1 L175.2 285.3" stroke="#0000ff" stroke-width="1.15"/>
<path d="M170.6 273.4 L175.2 278.2 M170.6 278.2 L175.2 273.4" stroke="#22ee22" stroke-width="1.15"/>
<path d="M324.6 220.2 L329.4 224.8 M324.6 224.8 L329.4 220.2" stroke="#ff0000" stroke-width="1.15"/>
<path d="M203.2 305.2 L207.8 310 M203.2 310 L207.8 305.2" stroke="#00e8ff" stroke-width="1.15"/>
<path d="M197.1 299.2 L201.8 304 M197.1 304 L201.8 299.2" stroke="#ff00ff" stroke-width="1.15"/>
<path d="M193.1 288.8 L197.8 293.5 M193.1 293.5 L197.8 288.8" stroke="#0000ff" stroke-width="1.15"/>
<path d="M193.1 277.3 L197.8 282.1 M193.1 282.1 L197.8 277.3" stroke="#22ee22" stroke-width="1.15"/>
<path d="M325.9 227.1 L330.7 231.8 M325.9 231.8 L330.7 227.1" stroke="#ff0000" stroke-width="1.15"/>
<path d="M219.2 301.6 L223.8 306.4 M219.2 306.4 L223.8 301.6" stroke="#ff00ff" stroke-width="1.15"/>
<path d="M214 291.2 L218.7 296 M214 296 L218.7 291.2" stroke="#0000ff" stroke-width="1.15"/>
<path d="M214 280.3 L218.7 285.1 M214 285.1 L218.7 280.3" stroke="#22ee22" stroke-width="1.15"/>
<path d="M325.9 234.2 L330.7 238.9 M325.9 238.9 L330.7 234.2" stroke="#ff0000" stroke-width="1.15"/>
</g>
<g fill="none">
<line x1="34.1" y1="0" x2="34.1" y2="322.9" stroke="#888" stroke-width="2.1"/>
<line x1="33" y1="321.9" x2="342" y2="321.9" stroke="#888" stroke-width="2.1"/>
<line x1="34" y1="0.5" x2="342" y2="0.5" stroke="#000" stroke-width="1.1"/>
<line x1="341.5" y1="0" x2="341.5" y2="322.5" stroke="#333" stroke-width="1.4"/>
<line x1="34" y1="161.5" x2="342" y2="161.5" stroke="#333" stroke-width="1"/>
<line x1="58.4" y1="0" x2="58.4" y2="4.5" stroke="#222" stroke-width="1"/>
<line x1="58.4" y1="157.3" x2="58.4" y2="165.5" stroke="#222" stroke-width="1"/>
<line x1="58.4" y1="317.4" x2="58.4" y2="322" stroke="#222" stroke-width="1"/>
<line x1="89.2" y1="0" x2="89.2" y2="4.5" stroke="#222" stroke-width="1"/>
<line x1="89.2" y1="157.3" x2="89.2" y2="165.5" stroke="#222" stroke-width="1"/>
<line x1="89.2" y1="317.4" x2="89.2" y2="322" stroke="#222" stroke-width="1"/>
<line x1="120" y1="0" x2="120" y2="4.5" stroke="#222" stroke-width="1"/>
<line x1="120" y1="157.3" x2="120" y2="165.5" stroke="#222" stroke-width="1"/>
<line x1="120" y1="317.4" x2="120" y2="322" stroke="#222" stroke-width="1"/>
<line x1="150.7" y1="0" x2="150.7" y2="4.5" stroke="#222" stroke-width="1"/>
<line x1="150.7" y1="157.3" x2="150.7" y2="165.5" stroke="#222" stroke-width="1"/>
<line x1="150.7" y1="317.4" x2="150.7" y2="322" stroke="#222" stroke-width="1"/>
<line x1="181.5" y1="0" x2="181.5" y2="4.5" stroke="#222" stroke-width="1"/>
<line x1="181.5" y1="157.3" x2="181.5" y2="165.5" stroke="#222" stroke-width="1"/>
<line x1="181.5" y1="317.4" x2="181.5" y2="322" stroke="#222" stroke-width="1"/>
<line x1="212.3" y1="0" x2="212.3" y2="4.5" stroke="#222" stroke-width="1"/>
<line x1="212.3" y1="157.3" x2="212.3" y2="165.5" stroke="#222" stroke-width="1"/>
<line x1="212.3" y1="317.4" x2="212.3" y2="322" stroke="#222" stroke-width="1"/>
<line x1="243.1" y1="0" x2="243.1" y2="4.5" stroke="#222" stroke-width="1"/>
<line x1="243.1" y1="157.3" x2="243.1" y2="165.5" stroke="#222" stroke-width="1"/>
<line x1="243.1" y1="317.4" x2="243.1" y2="322" stroke="#222" stroke-width="1"/>
<line x1="273.8" y1="0" x2="273.8" y2="4.5" stroke="#222" stroke-width="1"/>
<line x1="273.8" y1="157.3" x2="273.8" y2="165.5" stroke="#222" stroke-width="1"/>
<line x1="273.8" y1="317.4" x2="273.8" y2="322" stroke="#222" stroke-width="1"/>
<line x1="304.6" y1="0" x2="304.6" y2="4.5" stroke="#222" stroke-width="1"/>
<line x1="304.6" y1="157.3" x2="304.6" y2="165.5" stroke="#222" stroke-width="1"/>
<line x1="304.6" y1="317.4" x2="304.6" y2="322" stroke="#222" stroke-width="1"/>
<line x1="335.4" y1="0" x2="335.4" y2="4.5" stroke="#222" stroke-width="1"/>
<line x1="335.4" y1="157.3" x2="335.4" y2="165.5" stroke="#222" stroke-width="1"/>
<line x1="335.4" y1="317.4" x2="335.4" y2="322" stroke="#222" stroke-width="1"/>
<line x1="34" y1="147.8" x2="38.4" y2="147.8" stroke="#333" stroke-width="1"/>
<line x1="337.1" y1="147.8" x2="341.5" y2="147.8" stroke="#333" stroke-width="1"/>
<line x1="34" y1="125.4" x2="38.4" y2="125.4" stroke="#333" stroke-width="1"/>
<line x1="337.1" y1="125.4" x2="341.5" y2="125.4" stroke="#333" stroke-width="1"/>
<line x1="34" y1="103.1" x2="38.4" y2="103.1" stroke="#333" stroke-width="1"/>
<line x1="337.1" y1="103.1" x2="341.5" y2="103.1" stroke="#333" stroke-width="1"/>
<line x1="34" y1="80.7" x2="38.4" y2="80.7" stroke="#333" stroke-width="1"/>
<line x1="337.1" y1="80.7" x2="341.5" y2="80.7" stroke="#333" stroke-width="1"/>
<line x1="34" y1="58.4" x2="38.4" y2="58.4" stroke="#333" stroke-width="1"/>
<line x1="337.1" y1="58.4" x2="341.5" y2="58.4" stroke="#333" stroke-width="1"/>
<line x1="34" y1="36" x2="38.4" y2="36" stroke="#333" stroke-width="1"/>
<line x1="337.1" y1="36" x2="341.5" y2="36" stroke="#333" stroke-width="1"/>
<line x1="34" y1="13.6" x2="38.4" y2="13.6" stroke="#333" stroke-width="1"/>
<line x1="337.1" y1="13.6" x2="341.5" y2="13.6" stroke="#333" stroke-width="1"/>
<line x1="34" y1="161.9" x2="38.4" y2="161.9" stroke="#333" stroke-width="1"/>
<line x1="337.1" y1="161.9" x2="341.5" y2="161.9" stroke="#333" stroke-width="1"/>
<line x1="34" y1="176.2" x2="38.4" y2="176.2" stroke="#333" stroke-width="1"/>
<line x1="337.1" y1="176.2" x2="341.5" y2="176.2" stroke="#333" stroke-width="1"/>
<line x1="34" y1="190.4" x2="38.4" y2="190.4" stroke="#333" stroke-width="1"/>
<line x1="337.1" y1="190.4" x2="341.5" y2="190.4" stroke="#333" stroke-width="1"/>
<line x1="34" y1="204.7" x2="38.4" y2="204.7" stroke="#333" stroke-width="1"/>
<line x1="337.1" y1="204.7" x2="341.5" y2="204.7" stroke="#333" stroke-width="1"/>
<line x1="34" y1="218.9" x2="38.4" y2="218.9" stroke="#333" stroke-width="1"/>
<line x1="337.1" y1="218.9" x2="341.5" y2="218.9" stroke="#333" stroke-width="1"/>
<line x1="34" y1="233.2" x2="38.4" y2="233.2" stroke="#333" stroke-width="1"/>
<line x1="337.1" y1="233.2" x2="341.5" y2="233.2" stroke="#333" stroke-width="1"/>
<line x1="34" y1="247.4" x2="38.4" y2="247.4" stroke="#333" stroke-width="1"/>
<line x1="337.1" y1="247.4" x2="341.5" y2="247.4" stroke="#333" stroke-width="1"/>
<line x1="34" y1="261.6" x2="38.4" y2="261.6" stroke="#333" stroke-width="1"/>
<line x1="337.1" y1="261.6" x2="341.5" y2="261.6" stroke="#333" stroke-width="1"/>
<line x1="34" y1="275.9" x2="38.4" y2="275.9" stroke="#333" stroke-width="1"/>
<line x1="337.1" y1="275.9" x2="341.5" y2="275.9" stroke="#333" stroke-width="1"/>
<line x1="34" y1="290.1" x2="38.4" y2="290.1" stroke="#333" stroke-width="1"/>
<line x1="337.1" y1="290.1" x2="341.5" y2="290.1" stroke="#333" stroke-width="1"/>
<line x1="34" y1="304.4" x2="38.4" y2="304.4" stroke="#333" stroke-width="1"/>
<line x1="337.1" y1="304.4" x2="341.5" y2="304.4" stroke="#333" stroke-width="1"/>
<line x1="34" y1="318.6" x2="38.4" y2="318.6" stroke="#333" stroke-width="1"/>
<line x1="337.1" y1="318.6" x2="341.5" y2="318.6" stroke="#333" stroke-width="1"/>
</g>
<g class="b" font-size="10.3">
<text x="28.3" y="152" text-anchor="end">20</text>
<text x="28.3" y="129.6" text-anchor="end">22</text>
<text x="28.3" y="107.3" text-anchor="end">24</text>
<text x="28.3" y="84.9" text-anchor="end">26</text>
<text x="28.3" y="62.6" text-anchor="end">28</text>
<text x="28.3" y="40.2" text-anchor="end">30</text>
<text x="28.3" y="17.8" text-anchor="end">32</text>
<text x="28.3" y="166.1" text-anchor="end">-5</text>
<text x="28.3" y="180.3" text-anchor="end">-4</text>
<text x="28.3" y="194.6" text-anchor="end">-3</text>
<text x="28.3" y="208.8" text-anchor="end">-2</text>
<text x="28.3" y="223.1" text-anchor="end">-1</text>
<text x="28.3" y="237.3" text-anchor="end">0</text>
<text x="28.3" y="251.6" text-anchor="end">1</text>
<text x="28.3" y="265.8" text-anchor="end">2</text>
<text x="28.3" y="280.1" text-anchor="end">3</text>
<text x="28.3" y="294.3" text-anchor="end">4</text>
<text x="28.3" y="308.6" text-anchor="end">5</text>
<text x="28.3" y="322.8" text-anchor="end">6</text>
<text x="58.4" y="335.6" text-anchor="middle">1000</text>
<text x="89.2" y="335.6" text-anchor="middle">2000</text>
<text x="120" y="335.6" text-anchor="middle">3000</text>
<text x="150.7" y="335.6" text-anchor="middle">4000</text>
<text x="181.5" y="335.6" text-anchor="middle">5000</text>
<text x="212.3" y="335.6" text-anchor="middle">6000</text>
<text x="243.1" y="335.6" text-anchor="middle">7000</text>
<text x="273.8" y="335.6" text-anchor="middle">8000</text>
<text x="304.6" y="335.6" text-anchor="middle">9000</text>
<text x="335.4" y="335.6" text-anchor="middle">10000</text>
</g>
<g class="b" font-size="7.3">
<text x="46.4" y="150.3">0.1</text>
<text x="70.7" y="151.5">0.3</text>
<text x="87.8" y="140.3">0.6</text>
<text x="127.6" y="125.4">1</text>
<text x="155.2" y="114.4">2</text>
<text x="178.3" y="104.4">3</text>
<text x="202.2" y="96.8">4</text>
<text x="220.9" y="93.9">5</text>
<text x="38.9" y="275">0.1</text>
<text x="57.8" y="300">0.3</text>
<text x="89.8" y="317.6">0.6</text>
<text x="129.3" y="318.3">1</text>
<text x="155.4" y="317.8">2</text>
<text x="178.3" y="319">3</text>
<text x="200.3" y="319">4</text>
<text x="229.6" y="317.6">5</text>
</g>
<text transform="translate(7.8,110.2) rotate(-90)" font-size="10.2">log <tspan font-style="italic">L</tspan><tspan font-size="7.4" dy="2.2">pl</tspan><tspan dy="-2.2"> [erg/s]</tspan></text>
<text transform="translate(8.0,271.0) rotate(-90)" font-size="10.2">log <tspan font-style="italic">P</tspan><tspan font-size="7.4" dy="2.2">surf</tspan><tspan dy="-2.2"> [bar]</tspan></text>
<text x="171.5" y="348.6" font-size="10.2"><tspan font-style="italic">T</tspan><tspan font-size="7.4" dy="2.2">surf</tspan><tspan dy="-2.2"> [K]</tspan></text>
</svg>
</body></html>
